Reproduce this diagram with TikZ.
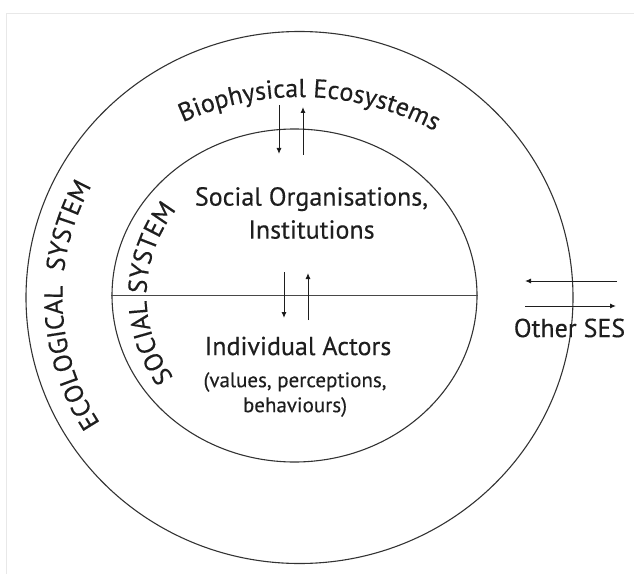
\documentclass[tikz,border=0pt]{standalone}
\usepackage{fontspec}
\setmainfont{PT Sans}[FakeBold=0.3]
\usetikzlibrary{shapes.geometric,decorations.text,arrows.meta}
\definecolor{ink}{HTML}{1E1E1E}
\definecolor{rim}{HTML}{333333}
\definecolor{framegray}{HTML}{E8E8E8}
\newcommand\labelfont{\fontsize{26}{33}\selectfont}
\newcommand\notefont{\fontsize{21}{25}\selectfont}

\begin{document}
\begin{tikzpicture}[x=1pt,y=1pt,
  ring/.style={draw=rim, line width=1.1pt, ellipse, inner sep=0pt},
  flow/.style={draw=ink, line width=1pt, -{Latex[length=6pt,width=5pt]}},
  lbl/.style={text=ink, font=\labelfont, align=center, inner sep=0pt},
  curved/.style={decorate, decoration={text along path, text align=center,
      text color=ink, text={#1}}},
]
\useasboundingbox (0,0) rectangle (634,574);
% faint page frame
\draw[framegray, line width=0.6pt] (6,0) -- (6,561) -- (634,561);

% the two nested systems
\node[ring, minimum width=547pt, minimum height=532pt] (eco) at (299.5,276.5) {};
\node[ring, minimum width=365pt, minimum height=333pt] (soc) at (294.5,278.5) {};
\draw[rim!90, line width=1.7pt] (soc.west) -- (soc.east);

% labels inside the social system
\node[lbl] (org) at (311.5,361) {Social Organisations,\\Institutions};
\node[lbl] (actors) at (298,228) {Individual Actors};
\node[lbl, font=\notefont, align=center] (traits) at (295,179.5)
  {(values, perceptions,\\behaviours)};
\node[lbl] (ses) at (569.5,246) {Other SES};

% curved system names
\path[curved={|\labelfont|Biophysical Ecosystems}]
  (300,194) ++(130:283) arc[start angle=130, end angle=46, radius=283];
\path[curved={|\labelfont|ECOLOGICAL{\ }{\ }SYSTEM}]
  (299.5,276.5) ++(226:237 and 232)
  arc[start angle=226, end angle=138, x radius=237, y radius=232];
\path[curved={|\labelfont|SOCIAL{\ }SYSTEM}]
  (294.5,278.5) ++(232:148 and 142)
  arc[start angle=232, end angle=126, x radius=148, y radius=142];

% exchange between ecosystems and organisations
\coordinate (ecoDownA) at (279,469);
\coordinate (ecoDownB) at (279,420);
\coordinate (ecoUpA) at (303,419);
\coordinate (ecoUpB) at (303,467);
\draw[flow] (ecoDownA) -- (ecoDownB);
\draw[flow] (ecoUpA) -- (ecoUpB);

% exchange between organisations and individual actors
\coordinate (orgDownA) at (284,302);
\coordinate (orgDownB) at (284,256);
\coordinate (orgUpA) at (308,254);
\coordinate (orgUpB) at (308,301);
\draw[flow] (orgDownA) -- (orgDownB);
\draw[flow] (orgUpA) -- (orgUpB);

% exchange with other social-ecological systems
\coordinate (sesInA) at (617,293);
\coordinate (sesInB) at (525,293);
\coordinate (sesOutA) at (525,268);
\coordinate (sesOutB) at (616,268);
\draw[flow] (sesInA) -- (sesInB);
\draw[flow] (sesOutA) -- (sesOutB);
\end{tikzpicture}
\end{document}
